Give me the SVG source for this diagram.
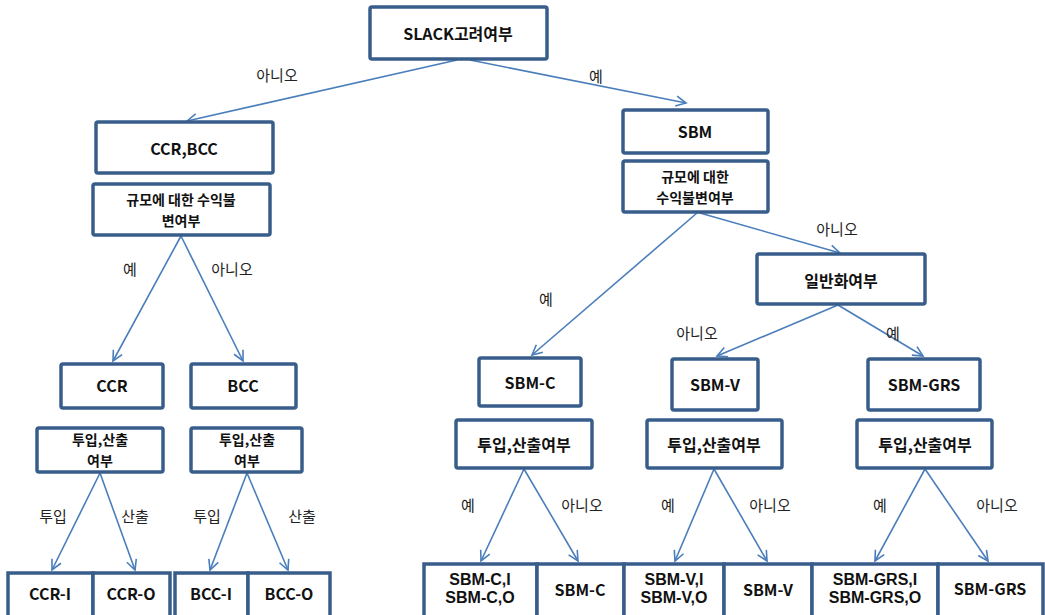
<svg xmlns="http://www.w3.org/2000/svg" width="1045" height="615" viewBox="0 0 1045 615">
<style>
.box{fill:#fff;stroke:#385d8a;stroke-width:3.5}
.t{font-family:"Noto Sans CJK KR","Liberation Sans",sans-serif;font-weight:bold;font-size:16px;fill:#111;text-anchor:middle;dominant-baseline:central}
.t2{font-size:14px}
.e{font-family:"Liberation Sans","Noto Sans CJK KR",sans-serif;font-weight:bold;font-size:16px;fill:#111;text-anchor:middle;dominant-baseline:central}
.l{font-family:"Noto Sans CJK KR","Liberation Sans",sans-serif;font-size:15px;fill:#222;text-anchor:middle;dominant-baseline:central}
.c{stroke:#4a7ebb;stroke-width:1.6;fill:none;marker-end:url(#a)}
</style>
<defs>
<marker id="a" markerUnits="userSpaceOnUse" markerWidth="14" markerHeight="14" refX="11" refY="6" orient="auto" viewBox="0 0 14 12">
<path d="M1,1 L11,6 L1,11" fill="none" stroke="#4a7ebb" stroke-width="1.6"/>
</marker>
</defs>
<rect width="1045" height="615" fill="#fff"/>
<g id="connectors">
<line class="c" x1="457" y1="60" x2="187" y2="121"/>
<line class="c" x1="470" y1="60" x2="686" y2="103"/>
<line class="c" x1="181" y1="236" x2="113" y2="361"/>
<line class="c" x1="181" y1="236" x2="243" y2="361"/>
<line class="c" x1="100" y1="473" x2="52" y2="570"/>
<line class="c" x1="100" y1="473" x2="135" y2="570"/>
<line class="c" x1="247" y1="473" x2="210" y2="570"/>
<line class="c" x1="247" y1="473" x2="288" y2="570"/>
<line class="c" x1="697" y1="213" x2="532" y2="355"/>
<line class="c" x1="700" y1="213" x2="840" y2="253"/>
<line class="c" x1="838" y1="305" x2="717" y2="356"/>
<line class="c" x1="838" y1="305" x2="923" y2="356"/>
<line class="c" x1="524" y1="469" x2="481" y2="561"/>
<line class="c" x1="524" y1="469" x2="578" y2="561"/>
<line class="c" x1="714" y1="469" x2="675" y2="561"/>
<line class="c" x1="714" y1="469" x2="767" y2="561"/>
<line class="c" x1="925" y1="469" x2="875" y2="561"/>
<line class="c" x1="925" y1="469" x2="988" y2="561"/>
<text class="l" x="277" y="74">아니오</text>
<text class="l" x="596" y="75">예</text>
<text class="l" x="130" y="268">예</text>
<text class="l" x="232" y="268">아니오</text>
<text class="l" x="53" y="515">투입</text>
<text class="l" x="135" y="515">산출</text>
<text class="l" x="207" y="515">투입</text>
<text class="l" x="302" y="515">산출</text>
<text class="l" x="546" y="298">예</text>
<text class="l" x="837" y="228">아니오</text>
<text class="l" x="697" y="332">아니오</text>
<text class="l" x="893" y="332">예</text>
<text class="l" x="468" y="504">예</text>
<text class="l" x="582" y="504">아니오</text>
<text class="l" x="668" y="504">예</text>
<text class="l" x="770" y="504">아니오</text>
<text class="l" x="880" y="504">예</text>
<text class="l" x="997" y="504">아니오</text>
</g>
<g id="n-slack"><rect class="box" x="370" y="7" width="177" height="52" rx="2"/><text class="t" x="458" y="33">SLACK고려여부</text></g>
<g id="n-ccrbcc"><rect class="box" x="96" y="122" width="177" height="51" rx="2"/><text class="t" x="184" y="148">CCR,BCC</text></g>
<g id="n-scale-left"><rect class="box" x="93" y="184" width="177" height="51" rx="2"/><text class="t t2" x="181" y="199">규모에 대한 수익불</text><text class="t t2" x="181" y="220">변여부</text></g>
<g id="n-sbm"><rect class="box" x="623" y="110" width="145" height="43" rx="2"/><text class="t" x="695" y="131">SBM</text></g>
<g id="n-scale-right"><rect class="box" x="623" y="161" width="145" height="51" rx="2"/><text class="t t2" x="695" y="176">규모에 대한</text><text class="t t2" x="695" y="197">수익불변여부</text></g>
<g id="n-general"><rect class="box" x="757" y="254" width="168" height="50" rx="2"/><text class="t" x="841" y="280">일반화여부</text></g>
<g id="n-ccr"><rect class="box" x="61" y="364" width="102" height="44" rx="2"/><text class="t" x="112" y="385">CCR</text></g>
<g id="n-bcc"><rect class="box" x="191" y="364" width="105" height="44" rx="2"/><text class="t" x="243" y="385">BCC</text></g>
<g id="n-io-ccr"><rect class="box" x="37" y="428" width="126" height="44" rx="2"/><text class="t t2" x="100" y="439">투입,산출</text><text class="t t2" x="100" y="460">여부</text></g>
<g id="n-io-bcc"><rect class="box" x="191" y="428" width="111" height="44" rx="2"/><text class="t t2" x="247" y="439">투입,산출</text><text class="t t2" x="247" y="460">여부</text></g>
<g id="n-sbmc"><rect class="box" x="479" y="358" width="102" height="48" rx="2"/><text class="t" x="530" y="382">SBM-C</text></g>
<g id="n-sbmv"><rect class="box" x="672" y="359" width="86" height="51" rx="2"/><text class="t" x="715" y="384">SBM-V</text></g>
<g id="n-sbmgrs"><rect class="box" x="868" y="359" width="112" height="51" rx="2"/><text class="t" x="924" y="384">SBM-GRS</text></g>
<g id="n-io-c"><rect class="box" x="456" y="420" width="136" height="48" rx="2"/><text class="t" x="524" y="444">투입,산출여부</text></g>
<g id="n-io-v"><rect class="box" x="647" y="420" width="135" height="48" rx="2"/><text class="t" x="714" y="444">투입,산출여부</text></g>
<g id="n-io-grs"><rect class="box" x="857" y="420" width="135" height="48" rx="2"/><text class="t" x="925" y="444">투입,산출여부</text></g>
<g id="n-ccr-i"><rect class="box" x="8" y="573" width="85" height="50"/><text class="t" x="50" y="593">CCR-I</text></g>
<g id="n-ccr-o"><rect class="box" x="93" y="573" width="77" height="50"/><text class="t" x="131" y="593">CCR-O</text></g>
<g id="n-bcc-i"><rect class="box" x="175" y="573" width="73" height="50"/><text class="t" x="211" y="593">BCC-I</text></g>
<g id="n-bcc-o"><rect class="box" x="248" y="573" width="82" height="50"/><text class="t" x="289" y="593">BCC-O</text></g>
<g id="n-sbmc-io"><rect class="box" x="424" y="564" width="113" height="60"/><text class="e" x="480" y="579">SBM-C,I</text><text class="e" x="480" y="597">SBM-C,O</text></g>
<g id="n-sbmc-leaf"><rect class="box" x="537" y="564" width="87" height="60"/><text class="t" x="580" y="589">SBM-C</text></g>
<g id="n-sbmv-io"><rect class="box" x="624" y="564" width="100" height="60"/><text class="e" x="674" y="579">SBM-V,I</text><text class="e" x="674" y="597">SBM-V,O</text></g>
<g id="n-sbmv-leaf"><rect class="box" x="724" y="564" width="88" height="60"/><text class="t" x="768" y="589">SBM-V</text></g>
<g id="n-sbmgrs-io"><rect class="box" x="812" y="564" width="126" height="60"/><text class="e" x="875" y="579">SBM-GRS,I</text><text class="e" x="875" y="597">SBM-GRS,O</text></g>
<g id="n-sbmgrs-leaf"><rect class="box" x="938" y="564" width="105" height="60"/><text class="t" x="990" y="588">SBM-GRS</text></g>
</svg>
